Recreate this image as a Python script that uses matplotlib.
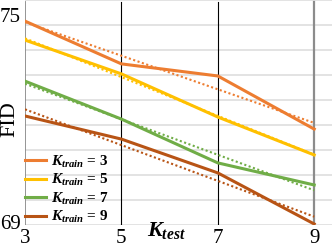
import matplotlib
matplotlib.use("Agg")
import matplotlib.pyplot as plt
import matplotlib.transforms as mtransforms
import numpy as np

plt.rcParams["font.family"] = "Liberation Serif"
plt.rcParams["mathtext.fontset"] = "custom"
plt.rcParams["mathtext.it"] = "Liberation Serif:italic:bold"
plt.rcParams["mathtext.rm"] = "Liberation Serif:bold"

k_test = [3, 5, 7, 9]
k_train = [3, 5, 7, 9]
fid_k3 = [74.91, 73.67, 73.32, 71.78]
fid_k5 = [74.36, 73.38, 72.13, 71.03]
fid_k7 = [73.17, 72.07, 70.80, 70.16]
fid_k9 = [72.16, 71.49, 70.51, 69.03]
colors = ["#ED7D31", "#FFC000", "#70AD47", "#B85415"]

fig = plt.figure(figsize=(3.32, 2.5), dpi=100)
ax = fig.add_axes([25 / 332, 25 / 250, 307 / 332, 225 / 250])

y_lo, y_hi = 69, 69 + 225 / 34.5
ax.set_xlim(3, 3 + 307 / 48.2)
ax.set_ylim(y_lo, y_hi)

# background grid
for g in np.linspace(y_lo, y_hi, 10):
    ax.axhline(g, color="#E0E0E0", lw=1.3, zorder=0)

# vertical guides
top = 1 - 2 / 225
for x, c, w in [(3, "#8C8C8C", 1.3), (5, "black", 0.8), (7, "black", 0.8), (9, "#8C8C8C", 1.6)]:
    ax.axvline(x, ymin=0, ymax=top, color=c, lw=w, zorder=1)

xs = np.array(k_test, dtype=float)
for vals, col, k in zip([fid_k3, fid_k5, fid_k7, fid_k9], colors, k_train):
    ax.plot(xs, vals, color=col, lw=2.2, zorder=3,
            label=r"$K_{train}$ = %d" % k)
    p = np.polyfit(xs, vals, 1)
    ax.plot(xs, np.polyval(p, xs), color=col, lw=1.5,
            ls=(0, (1, 1.2)), zorder=2)

for s in ax.spines.values():
    s.set_visible(False)

ax.set_xticks(k_test)
ax.set_xticklabels([str(k) for k in k_test], fontsize=15)
ax.set_yticks([69, 75])
ax.set_yticklabels(["69", "75"], fontsize=15)
ax.tick_params(length=0, pad=3)
shift = mtransforms.ScaledTranslation(0, 3 / 100, fig.dpi_scale_trans)
for lbl in ax.get_yticklabels():
    lbl.set_transform(lbl.get_transform() + shift)

ax.text(-0.05, 0.47, "FID", rotation=90, fontsize=16,
        transform=ax.transAxes, ha="center", va="center")
ax.text(0.46, -0.025, r"$K_{test}$", fontsize=16,
        transform=ax.transAxes, ha="center", va="center")

leg = ax.legend(loc="lower left", bbox_to_anchor=(0, 0.0), frameon=False,
                borderaxespad=0, borderpad=0, handlelength=1.35,
                handletextpad=0.35, labelspacing=0.15,
                prop={"family": "Liberation Serif", "weight": "bold", "size": 11})

fig.savefig("out.png", dpi=100, facecolor="white")
